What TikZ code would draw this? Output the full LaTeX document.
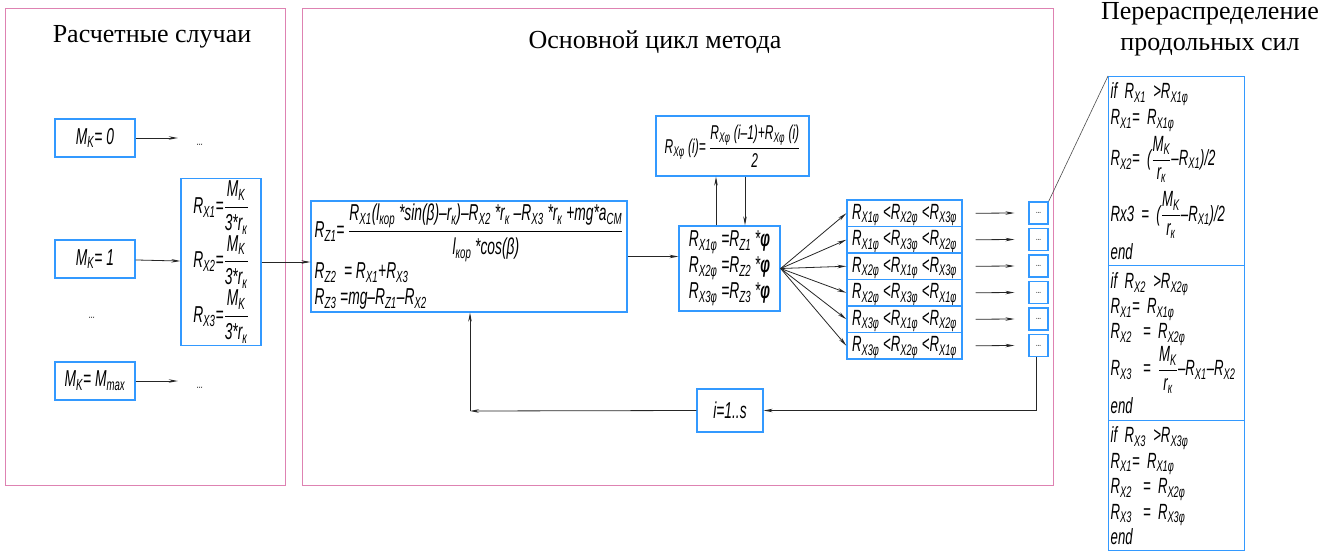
\documentclass[tikz,border=0pt]{standalone}
\usepackage{amsmath}
\usepackage{fontspec}
\setmainfont{Liberation Serif}
\newfontfamily\gost[FakeStretch=0.6]{Liberation Sans}
\usetikzlibrary{positioning,arrows.meta}
\definecolor{boxblue}{RGB}{51,153,255}
\definecolor{framepink}{RGB}{222,130,178}
\newcommand\ix[1]{\textsubscript{#1}}
\newcommand\gfrac[2]{$\dfrac{\text{#1}}{\text{#2}}$}
\begin{document}
\begin{tikzpicture}[x=1pt,y=-1pt,>={Stealth[length=9pt,width=3.5pt]},
  calcbox/.style={draw=boxblue, line width=1.3pt, font=\gost\itshape\fontsize{23}{26}\selectfont, inner sep=2pt},
  titletext/.style={font=\fontsize{26}{31}\selectfont, align=center},
  dotstext/.style={font=\gost\itshape\fontsize{12}{12}\selectfont, minimum width=44pt},
  conn/.style={->, draw=black!85, line width=0.8pt},
  pinkframe/.style={draw=framepink, line width=0.8pt}]
\useasboundingbox (0,0) rectangle (1319,551);
\draw[pinkframe] (5,8) rectangle (285,485);
\draw[pinkframe] (302,8) rectangle (1053,485);
\node[titletext] (t1) at (152,37) {Расчетные случаи};
\node[titletext] (t2) at (655,42) {Основной цикл метода};
\node[titletext] (t3) at (1210,29) {Перераспределение\\продольных сил};
\node[calcbox, minimum width=80pt, minimum height=38pt] (m0) at (95,138) {M\ix{K}= 0};
\node[calcbox, minimum width=80pt, minimum height=38pt] (m1) at (95,259) {M\ix{K}= 1};
\node[calcbox, minimum width=80pt, minimum height=38pt] (mmax) at (95,381) {M\ix{K}= M\ix{max}};
\node[dotstext] (d0) at (200,145) {...};
\node[dotstext] (dmid) at (92,318) {...};
\node[dotstext] (dmax) at (200,388) {...};
\node[calcbox, minimum width=80pt, minimum height=162pt, align=left] (rk) at (221,262)
  {R\ix{X1}=\gfrac{M\ix{K}}{3*r\ix{к}}\\R\ix{X2}=\gfrac{M\ix{K}}{3*r\ix{к}}\\R\ix{X3}=\gfrac{M\ix{K}}{3*r\ix{к}}};
\node[calcbox, minimum width=316pt, minimum height=111pt, align=left] (rz) at (469,256.5)
  {R\ix{Z1}= \gfrac{R\ix{X1}(l\ix{кор} *sin(β)–r\ix{к})–R\ix{X2} *r\ix{к} –R\ix{X3} *r\ix{к} +mg*a\ix{CM}}{l\ix{кор} *cos(β)}\\
   R\ix{Z2} \,= R\ix{X1}+R\ix{X3}\\
   R\ix{Z3} =mg–R\ix{Z1}–R\ix{X2}};
\node[calcbox, minimum width=101pt, minimum height=85pt, align=left, font=\gost\itshape\fontsize{23}{26}\selectfont] (phi) at (729.5,268.5)
  {R\ix{X1φ} =R\ix{Z1} *\textbf{φ}\\R\ix{X2φ} =R\ix{Z2} *\textbf{φ}\\R\ix{X3φ} =R\ix{Z3} *\textbf{φ}};
\node[calcbox, minimum width=153pt, minimum height=60pt, font=\gost\itshape\fontsize{20}{24}\selectfont] (avg) at (732.5,146)
  {R\ix{Xφ} (i)= \gfrac{R\ix{Xφ} (i–1)+R\ix{Xφ} (i)}{2}};
\node[calcbox, minimum width=66pt, minimum height=43pt] (loop) at (730,410.5) {i=1..s};
\foreach \a/\b/\c [count=\k] in {1/2/3,1/3/2,2/1/3,2/3/1,3/1/2,3/2/1} {
  \node[calcbox, font=\gost\itshape\fontsize{22}{22}\selectfont, minimum width=115pt, minimum height=26.5pt, inner sep=0pt, text height=15pt, text depth=3pt] (ord\k) at (904.5,186.75+26.5*\k)
    {R\ix{X\a φ} <R\ix{X\b φ} <R\ix{X\c φ}};
  \node[calcbox, font=\gost\fontsize{10}{10}\selectfont, minimum width=19pt, minimum height=22pt, inner sep=0pt] (dot\k) at (1038.5,186.5+26.5*\k) {...};
  \draw[conn] (phi.east) -- (ord\k.west);
  \draw[conn] ([xshift=13pt]ord\k.east) -- ([xshift=-14pt]dot\k.west);
}
\node[calcbox, anchor=north west, text width=132pt, minimum height=189pt, align=left, inner ysep=0pt, font=\gost\itshape\fontsize{22}{26}\selectfont] (redist1) at (1108,76)
  {if R\ix{X1} >R\ix{X1φ}\\R\ix{X1}= R\ix{X1φ}\\[4pt]R\ix{X2}= (\gfrac{M\ix{K}}{r\ix{к}}–R\ix{X1})/2\\[8pt]Rx3 = (\gfrac{M\ix{K}}{r\ix{к}}–R\ix{X1})/2\\[4pt]end};
\node[calcbox, anchor=north west, text width=132pt, minimum height=155pt, align=left, inner ysep=0pt, font=\gost\itshape\fontsize{22}{25}\selectfont] (redist2) at (1108,265)
  {if R\ix{X2} >R\ix{X2φ}\\R\ix{X1}= R\ix{X1φ}\\R\ix{X2} \,= R\ix{X2φ}\\R\ix{X3} \,= \gfrac{M\ix{K}}{r\ix{к}}–R\ix{X1}–R\ix{X2}\\[3pt]end};
\node[calcbox, anchor=north west, text width=132pt, minimum height=130pt, align=left, inner ysep=0pt, font=\gost\itshape\fontsize{22}{25.5}\selectfont] (redist3) at (1108,420)
  {if R\ix{X3} >R\ix{X3φ}\\R\ix{X1}= R\ix{X1φ}\\R\ix{X2} \,= R\ix{X2φ}\\R\ix{X3} \,= R\ix{X3φ}\\end};
\coordinate (corner) at (470,411);
\draw[conn] (m0.east) -- (m0.east -| d0.west);
\draw[conn] (mmax.east) -- (mmax.east -| dmax.west);
\draw[conn] (m1) -- (rk);
\draw[conn] (rk.east) -- (rk.east -| rz.west);
\draw[conn] (rz.east) -- (rz.east -| phi.west);
\draw[conn] ([xshift=-13.5pt]phi.north) -- ([xshift=-16.5pt]avg.south);
\draw[conn] ([xshift=12.5pt]avg.south) -- ([xshift=15.5pt]phi.north);
\draw[draw=black!70, line width=0.6pt] (dot1.north east) -- (redist1.north west);
\draw[conn] ([xshift=-2pt]dot6.south) |- (loop.east);
\draw[conn] (loop.west) -- (corner);
\draw[conn] (corner) -- (rz.south -| corner);
\end{tikzpicture}
\end{document}
